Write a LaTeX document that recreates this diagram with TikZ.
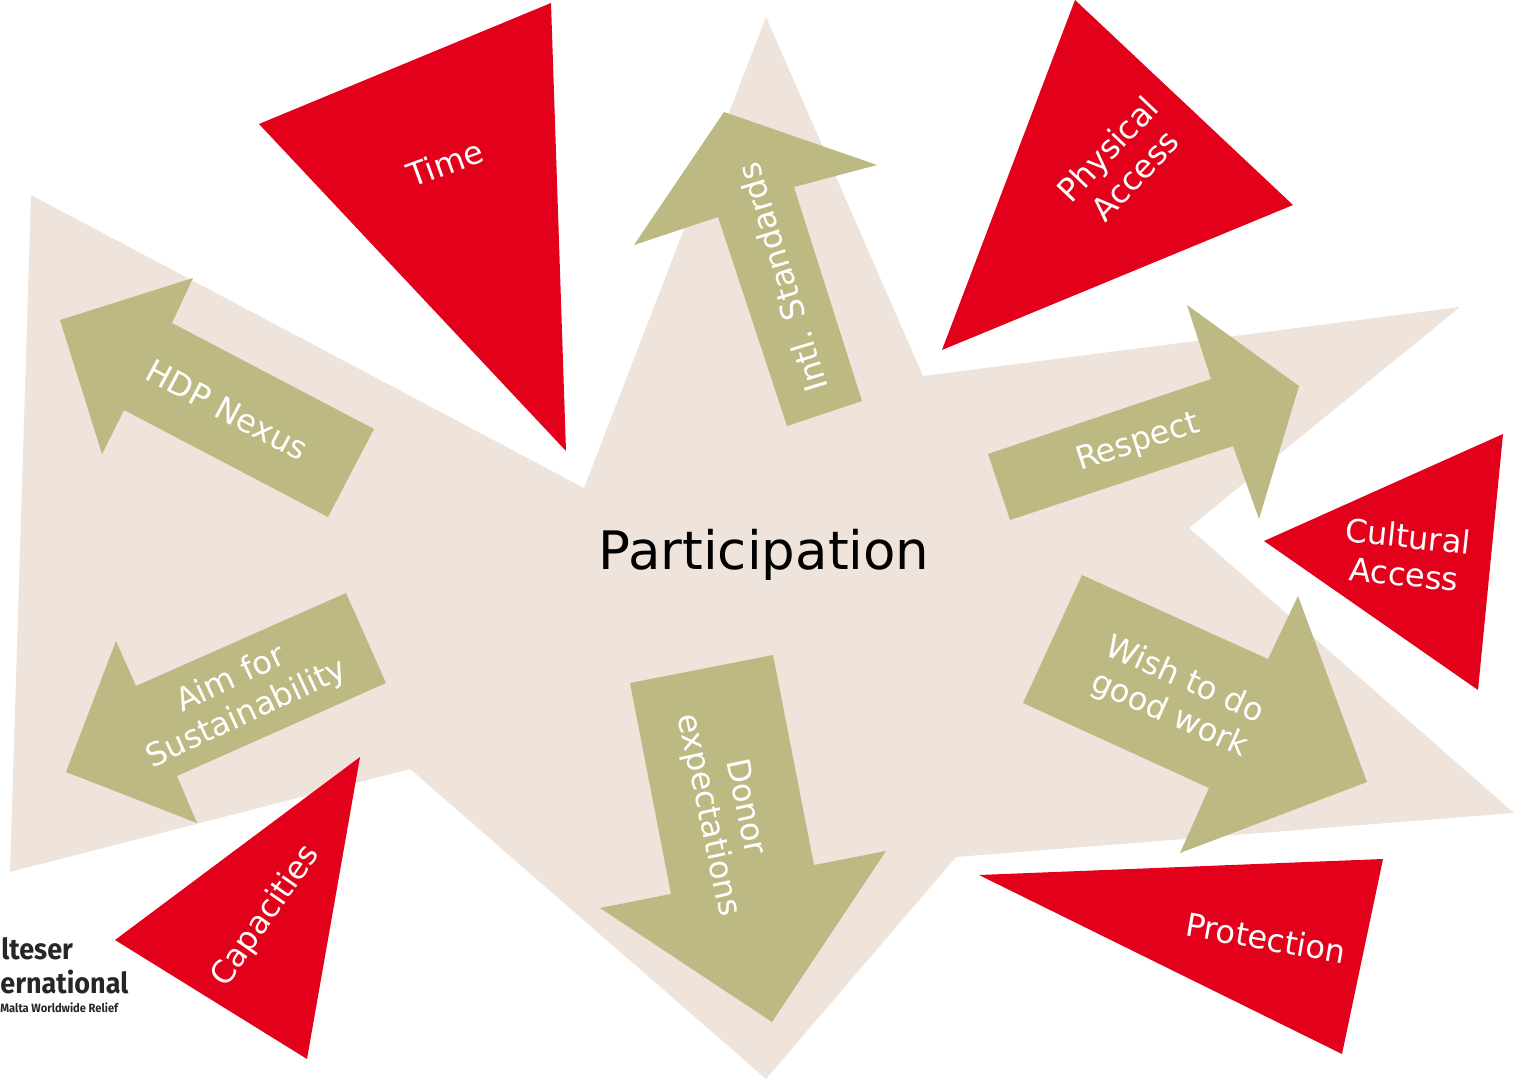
\documentclass[tikz,border=0pt]{standalone}
\usepackage{fontspec}
\setmainfont{DejaVu Sans}
\newfontfamily\logofont[FakeStretch=0.93]{Fira Sans}
\definecolor{sand}{HTML}{EEE4DB}
\definecolor{olive}{HTML}{BCB982}
\definecolor{signal}{HTML}{E2001A}
\tikzset{
	barrier/.style={fill=signal},
	driver/.style={fill=olive},
	caption/.style={white,font=\fontsize{16}{19}\selectfont,align=center},
	logotext/.style={black!85,anchor=west,inner sep=0pt}
}

\begin{document}
\begin{tikzpicture}[x=0.5pt,y=-0.5pt]
	\useasboundingbox (0,0) rectangle (1514,1080);
	% background star
	\fill [sand] (766,17) -- (923,376) -- (1460,307) -- (1189,528) -- (1514,813) -- (956,857) -- (766,1079) -- (410,769) -- (10,872) -- (31,195) -- (584,488) -- cycle;
	\node (participation) at (764,555) {\fontsize{26.5}{32}\selectfont Participation};
	% red triangles
	\fill [barrier] (551,3) -- (566,451) -- (259,124) -- cycle;
	\fill [barrier] (1075,0) -- (1293,205) -- (942,350) -- cycle;
	\fill [barrier] (1503,434) -- (1478,690) -- (1264,541) -- cycle;
	\fill [barrier] (979,875) -- (1383,859) -- (1342,1054) -- cycle;
	\fill [barrier] (360,757) -- (307,1059) -- (115,940) -- cycle;
	% arrows
	\fill [driver] (787,426) -- (862,401) -- (794,187) -- (877,165) -- (724,112) -- (634,245) -- (718,217) -- cycle;
	\fill [driver] (988,454) -- (1211,379) -- (1187,305) -- (1299,386) -- (1259,519) -- (1233,446) -- (1010,520) -- cycle;
	\fill [driver] (1082,575) -- (1268,659) -- (1298,596) -- (1367,782) -- (1180,853) -- (1209,788) -- (1023,703) -- cycle;
	\fill [driver] (773,655) -- (814,865) -- (886,851) -- (772,1022) -- (600,908) -- (671,894) -- (630,683) -- cycle;
	\fill [driver] (374,429) -- (172,323) -- (193,278) -- (60,320) -- (102,454) -- (124,410) -- (328,517) -- cycle;
	\fill [driver] (346,593) -- (386,683) -- (177,776) -- (197,823) -- (66,772) -- (116,641) -- (136,686) -- cycle;
	% labels
	\node [caption,rotate=20] (time) at (445,163) {Time};
	\node [caption,rotate=46.5] (physical) at (1121,162) {Physical\\Access};
	\node [caption,rotate=-6] (cultural) at (1406,555) {Cultural\\Access};
	\node [caption,rotate=-10] (protection) at (1266,938) {Protection};
	\node [caption,rotate=55,font=\fontsize{15.8}{18}\selectfont] (capacities) at (266,916) {Capacities};
	\node [caption,rotate=107] (standards) at (782,278) {Intl. Standards};
	\node [caption,rotate=18] (respect) at (1138,443) {Respect};
	\node [caption,rotate=-24] (wish) at (1177,698) {Wish to do\\good work};
	\node [caption,rotate=-78] (donor) at (726,811) {Donor\\expectations};
	\node [caption,rotate=-28] (nexus) at (227,410) {HDP Nexus};
	\node [caption,rotate=25] (aim) at (239,697) {Aim for\\Sustainability};
	% logo
	\node [logotext,font=\logofont\bfseries\fontsize{14.5}{16}\selectfont] (logoa) at (1,949) {lteser};
	\node [logotext,font=\logofont\bfseries\fontsize{14.5}{16}\selectfont] (logob) at (0,982) {ernational};
	\node [logotext,font=\logofont\bfseries\fontsize{6}{7}\selectfont] (logoc) at (0,1008) {Malta Worldwide Relief};
\end{tikzpicture}
\end{document}
